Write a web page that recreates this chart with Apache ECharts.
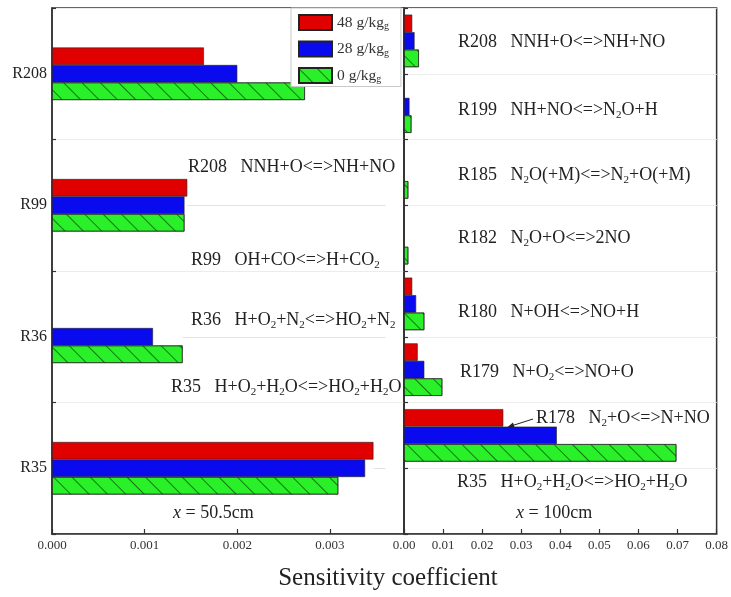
<!DOCTYPE html>
<html><head><meta charset="utf-8">
<script src="https://cdn.jsdelivr.net/npm/echarts@6/dist/echarts.min.js"></script>
<style>html,body{margin:0;padding:0;background:#fff}#chart{width:731px;height:597px}</style>
</head><body><div id="chart"></div>
<script>
// Reaction categories (top to bottom)
const leftCategories = ['R208', 'R99', 'R36', 'R35'];
const rightCategories = ['R208', 'R199', 'R185', 'R182', 'R180', 'R179', 'R178', 'R35'];

// Water content levels
const seriesNames = ['48 g/kg_g', '28 g/kg_g', '0 g/kg_g'];

// Sensitivity coefficients at x = 50.5 cm
const left48 = [0.00164, 0.00146, 0, 0.00347];
const left28 = [0.00200, 0.00143, 0.00109, 0.00338];
const left0  = [0.00273, 0.00143, 0.00141, 0.00309];

// Sensitivity coefficients at x = 100 cm
const right48 = [0.0021, 0, 0, 0, 0.0021, 0.0035, 0.0254, 0];
const right28 = [0.0027, 0.0014, 0, 0, 0.0031, 0.0052, 0.0391, 0];
const right0  = [0.0038, 0.0019, 0.0011, 0.0011, 0.0052, 0.0098, 0.0697, 0];

// Axis ranges / tick steps
const leftMax = 0.0038, leftStep = 0.001;
const rightMax = 0.08, rightStep = 0.01;

// Reaction equations ("_x" marks a subscript)
const leftReactions = [
  'R208   NNH+O<=>NH+NO',
  'R99   OH+CO<=>H+CO_2',
  'R36   H+O_2+N_2<=>HO_2+N_2',
  'R35   H+O_2+H_2O<=>HO_2+H_2O'
];
const rightReactions = [
  'R208   NNH+O<=>NH+NO',
  'R199   NH+NO<=>N_2O+H',
  'R185   N_2O(+M)<=>N_2+O(+M)',
  'R182   N_2O+O<=>2NO',
  'R180   N+OH<=>NO+H',
  'R179   N+O_2<=>NO+O',
  'R178   N_2+O<=>N+NO',
  'R35   H+O_2+H_2O<=>HO_2+H_2O'
];

const FONT = "'Liberation Serif', 'Times New Roman', serif";
const TXT = '#222';
const COLORS = ['#e00000', '#0a0aee', '#2af02a'];

function toRich(s) {
  return ('{n|' + s.replace(/_(\w)/g, '}{s|$1}{n|') + '}').replace(/\{n\|\}/g, '');
}

const hatch = {
  symbol: 'rect', symbolSize: 1, color: 'rgba(0,40,0,0.6)',
  dashArrayX: [1, 0], dashArrayY: [0.9, 11.8], rotation: Math.PI / 4
};

function barSeries(name, idx, gridIdx, values) {
  return {
    name: name, type: 'bar', xAxisIndex: gridIdx, yAxisIndex: gridIdx,
    barWidth: 17.5, barGap: '0%',
    data: values.map(v => (v === 0 ? '-' : v)),
    itemStyle: Object.assign(
      { color: COLORS[idx], borderColor: '#222', borderWidth: 0.6 },
      idx === 2 ? { decal: hatch } : {}
    ),
    emphasis: { disabled: true }
  };
}

// faint centre lines of the left panel, starting at each group's longest bar
const centreLines = leftCategories.map((c, i) => {
  const m = Math.max(left48[i], left28[i], left0[i]);
  return [{ coord: [m, c] }, { coord: [0.0036, c] }];
});

const series = [
  barSeries(seriesNames[0], 0, 0, left48),
  barSeries(seriesNames[1], 1, 0, left28),
  barSeries(seriesNames[2], 2, 0, left0),
  barSeries(seriesNames[0], 0, 1, right48),
  barSeries(seriesNames[1], 1, 1, right28),
  barSeries(seriesNames[2], 2, 1, right0)
];
// the middle bar of each group sits on the category centre
series[1].markLine = {
  silent: true, symbol: 'none', label: { show: false },
  lineStyle: { color: '#e2e2e2', width: 1, type: 'solid' },
  data: centreLines
};

const richText = {
  n: { fontSize: 18, lineHeight: 22, fontFamily: FONT, fill: TXT },
  s: { fontSize: 11, lineHeight: 11, fontFamily: FONT, fill: TXT, verticalAlign: 'bottom' },
  i: { fontSize: 18, lineHeight: 22, fontFamily: FONT, fill: TXT, fontStyle: 'italic' }
};

function note(text, x, y) {
  return {
    type: 'text', x: x, y: y, silent: true,
    style: { text: text, rich: richText, align: 'left', verticalAlign: 'middle', fill: TXT,
             fontSize: 18, fontFamily: FONT }
  };
}

const leftNotePos = [[188, 167], [191, 260], [191, 320], [171, 387]];
const rightNotePos = [[458, 42], [458, 110], [458, 175], [458, 238], [458, 312], [460, 372], [536, 418], [457, 482]];

const graphics = [];
leftReactions.forEach((r, i) => graphics.push(note(toRich(r), leftNotePos[i][0], leftNotePos[i][1])));
rightReactions.forEach((r, i) => graphics.push(note(toRich(r), rightNotePos[i][0], rightNotePos[i][1])));
graphics.push(note('{i|x}{n| = 50.5cm}', 173, 513));
graphics.push(note('{i|x}{n| = 100cm}', 516, 513));
// pointer for R178
graphics.push({ type: 'line', silent: true, shape: { x1: 533, y1: 419, x2: 511, y2: 426 },
  style: { stroke: '#222', lineWidth: 1 } });
graphics.push({ type: 'polygon', silent: true,
  shape: { points: [[507, 427.5], [513, 422.5], [514.5, 427.5]] }, style: { fill: '#222' } });
graphics.push({
  type: 'text', x: 388, y: 578, silent: true,
  style: { text: 'Sensitivity coefficient', align: 'center', verticalAlign: 'middle',
           fontSize: 25, fontFamily: FONT, fill: TXT }
});

function xAxis(gi, max, step, digits) {
  return {
    type: 'value', gridIndex: gi, min: 0, max: max, interval: step,
    axisLine: { show: true, onZero: false, lineStyle: { color: '#333', width: 1.5 } },
    axisTick: { show: true, inside: true, length: 5, lineStyle: { color: '#333', width: 1.2 } },
    axisLabel: { fontSize: 13, fontFamily: FONT, color: '#333', margin: 5, showMaxLabel: gi === 1,
                 formatter: v => v.toFixed(digits) },
    splitLine: { show: false }
  };
}
function yAxis(gi, cats, showLabel) {
  return {
    type: 'category', gridIndex: gi, data: cats, inverse: true,
    axisLine: { show: true, lineStyle: { color: '#333', width: 1.5 } },
    axisTick: { show: true, inside: true, length: 4, lineStyle: { color: '#333', width: 1.2 } },
    axisLabel: { show: showLabel, fontSize: 16, fontFamily: FONT, color: TXT, margin: 5 },
    splitLine: { show: true, lineStyle: { color: '#ececec', width: 1 } }
  };
}

const chart = echarts.init(document.getElementById('chart'), null, { renderer: 'canvas' });
chart.setOption({
  animation: false,
  backgroundColor: '#fff',
  grid: [
    { left: 52, top: 8, width: 352, bottom: 63, show: true, borderColor: '#333', borderWidth: 1.5, containLabel: false },
    { left: 404, top: 8, right: 14, bottom: 63, show: true, borderColor: '#333', borderWidth: 1.5, containLabel: false }
  ],
  xAxis: [xAxis(0, leftMax, leftStep, 3), xAxis(1, rightMax, rightStep, 2)],
  yAxis: [yAxis(0, leftCategories, true), yAxis(1, rightCategories, false)],
  legend: {
    data: seriesNames, orient: 'vertical', left: 291, top: 8, z: 20,
    padding: [6, 12, 2, 7], itemWidth: 33, itemHeight: 15, itemGap: 9,
    backgroundColor: '#fff', borderColor: '#c8c8c8', borderWidth: 1,
    icon: 'rect', selectedMode: false,
    formatter: name => toRich(name),
    textStyle: {
      fontFamily: FONT, fontSize: 15, color: '#333',
      rich: {
        n: { fontSize: 15.5, lineHeight: 18, fontFamily: FONT, color: '#333' },
        s: { fontSize: 10, lineHeight: 10, fontFamily: FONT, color: '#333', verticalAlign: 'bottom' }
      }
    }
  },
  series: series,
  graphic: graphics
});
</script>
</body></html>
